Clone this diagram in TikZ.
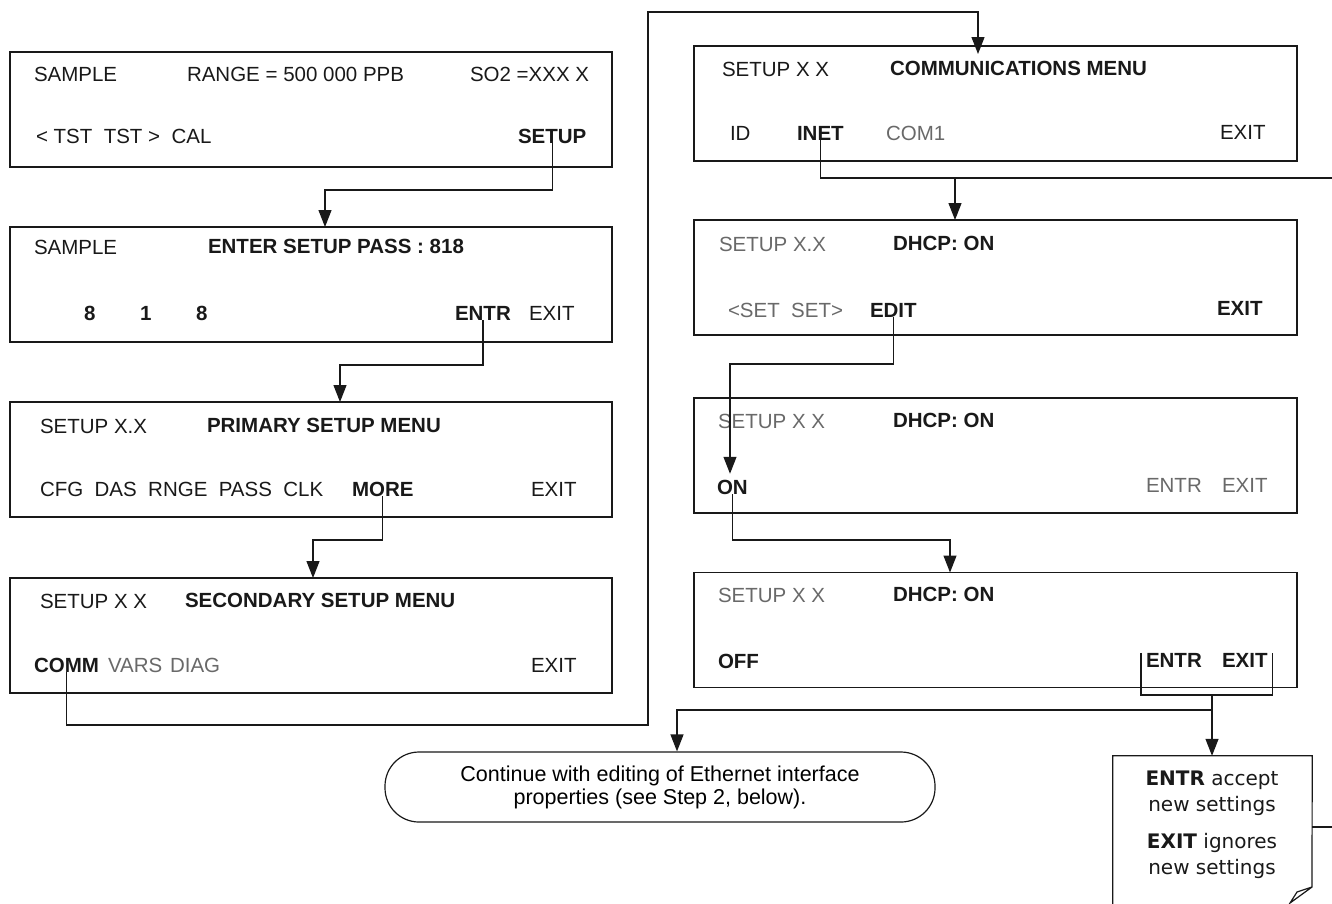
\documentclass[tikz,border=0pt]{standalone}
\usepackage{fontspec}
\setmainfont{Liberation Sans}
\newfontfamily\notefont{DejaVu Sans}
\usetikzlibrary{arrows.meta, positioning, calc}
\definecolor{ink}{RGB}{25,25,25}
\definecolor{dim}{RGB}{105,105,105}
\newcommand\dispfont{\fontsize{20.5pt}{24pt}\selectfont}
\tikzset{
  % Display screen frame
  SCR/.style={rectangle,draw=ink,line width=1.4pt,minimum width=#1,
              minimum height=115pt,inner sep=0pt,outer sep=0pt},
  SCR/.default=602pt,
  % Screen text: plain, bold, faint
  TX/.style={anchor=west,inner sep=0pt,outer sep=0pt,font=\dispfont,text=ink},
  BTX/.style={TX,font=\dispfont\bfseries},
  GTX/.style={TX,text=dim},
  % Rounded note and folded note
  OV/.style={rectangle,rounded corners=34pt,draw=ink,line width=1.2pt,
             minimum width=550pt,minimum height=70pt,align=center,
             font=\fontsize{21.5pt}{23pt}\selectfont},
  NT/.style={inner sep=0pt,align=center,text=ink,
             font=\notefont\fontsize{20pt}{26pt}\selectfont},
  % Connectors
  Ln/.style ={line width=1.2pt,draw=ink},
  Arr/.style={Ln,-{Triangle[length=17pt,width=13pt]}},
}
\begin{document}
\begin{tikzpicture}[x=1pt,y=-1pt]
  \useasboundingbox (0,0) rectangle (1332,903);

  % left column screens
  \node[SCR] (s1) at (311,109.5) {};
  \node[TX]  (smp1)  at (34,74)   {SAMPLE};
  \node[TX]  (rng)   at (187,74)  {RANGE = 500 000 PPB};
  \node[TX]  (so2)   at (470,74)  {SO2 =XXX X};
  \node[TX]  (tst)   at (36,136)  {< TST \ TST > \ CAL};
  \node[BTX] (setup) at (518,136) {SETUP};

  \node[SCR] (s2) at (311,284.5) {};
  \node[TX]  (smp2)  at (34,247)  {SAMPLE};
  \node[BTX] (pass)  at (208,246) {ENTER SETUP PASS : 818};
  \node[BTX] (dg1)   at (84,313)  {8};
  \node[BTX] (dg2)   at (140,313) {1};
  \node[BTX] (dg3)   at (196,313) {8};
  \node[BTX] (entr2) at (455,313) {ENTR};
  \node[TX]  (exit2) at (529,313) {EXIT};

  \node[SCR] (s3) at (311,459.5) {};
  \node[TX]  (set3)  at (40,426)  {SETUP X.X};
  \node[BTX] (prim)  at (207,425) {PRIMARY SETUP MENU};
  \node[TX]  (cfg)   at (40,489)  {CFG \ DAS \ RNGE \ PASS \ CLK};
  \node[BTX] (more)  at (352,489) {MORE};
  \node[TX]  (exit3) at (531,489) {EXIT};

  \node[SCR] (s4) at (311,635.5) {};
  \node[TX]  (set4)  at (40,601)  {SETUP X X};
  \node[BTX] (sec)   at (185,600) {SECONDARY SETUP MENU};
  \node[BTX] (comm)  at (34,665)  {COMM};
  \node[GTX] (vars)  at (108,665) {VARS};
  \node[GTX] (diag)  at (170,665) {DIAG};
  \node[TX]  (exit4) at (531,665) {EXIT};

  % right column screens
  \node[SCR=603pt] (c1) at (995.5,103.5) {};
  \node[TX]  (setc)  at (722,69)   {SETUP X X};
  \node[BTX] (cmenu) at (890,68)   {COMMUNICATIONS MENU};
  \node[TX]  (id)    at (730,133)  {ID};
  \node[BTX] (inet)  at (797,133)  {INET};
  \node[GTX] (com1)  at (886,133)  {COM1};
  \node[TX]  (exitc) at (1220,132) {EXIT};

  \node[SCR=603pt] (d1) at (995.5,277.5) {};
  \node[GTX] (setd1) at (719,244)  {SETUP X.X};
  \node[BTX] (dh1)   at (893,243)  {DHCP: ON};
  \node[GTX] (sets)  at (728,310)  {<SET \ SET>};
  \node[BTX] (edit)  at (870,310)  {EDIT};
  \node[BTX] (exitd1) at (1217,308) {EXIT};

  \node[SCR=603pt] (d2) at (995.5,455.5) {};
  \node[GTX] (setd2) at (718,421)  {SETUP X X};
  \node[BTX] (dh2)   at (893,420)  {DHCP: ON};
  \node[BTX] (on)    at (717,487)  {ON};
  \node[GTX] (entrd2) at (1146,485) {ENTR};
  \node[GTX] (exitd2) at (1222,485) {EXIT};

  \node[SCR=603pt] (d3) at (995.5,630) {};
  \node[GTX] (setd3) at (718,595)  {SETUP X X};
  \node[BTX] (dh3)   at (893,594)  {DHCP: ON};
  \node[BTX] (off)   at (718,661)  {OFF};
  \node[BTX] (entrd3) at (1146,660) {ENTR};
  \node[BTX] (exitd3) at (1222,660) {EXIT};

  % end notes
  \node[OV] (oval) at (660,787)
        {Continue with editing of Ethernet interface\\
         properties (see Step 2, below).};
  \node[inner sep=0pt,minimum width=199pt,minimum height=150pt] (note)
        at (1212.5,831) {};
  \node[NT] (notetxt) at (1212,825)
        {\textbf{ENTR} accept\\new settings\\[11pt]
         \textbf{EXIT} ignores\\new settings};
  \coordinate (fa) at (1312,887);
  \coordinate (fb) at (1290,903);
  \coordinate (fc) at (1297,892);
  \draw[Ln] (note.south west) -- (note.north west) -- (note.north east)
            -- (fa) -- (fb) -- (fc) -- (fa);

  % bends
  \coordinate (j1) at (325,190);
  \coordinate (j2) at (340,365);
  \coordinate (j3) at (313,540);
  \coordinate (j4) at (648,725);
  \coordinate (j5) at (978,12);
  \coordinate (j6) at (1332,178);
  \coordinate (j7) at (955,178);
  \coordinate (j8) at (730,364);
  \coordinate (j9) at (950,540);
  \coordinate (j10) at (1212,695);
  \coordinate (j11) at (1212,710);
  \coordinate (j12) at (677,710);
  \coordinate (j13) at (1332,827);

  \draw[Arr] (setup.south) |- (j1) -- (j1 |- s2.north);
  \draw[Arr] (entr2.south) |- (j2) -- (j2 |- s3.north);
  \draw[Arr] (more.south) |- (j3) -- (j3 |- s4.north);
  \draw[Arr] (comm.south) |- (j4) |- (j5) -- ([yshift=-8pt]j5 |- c1.north);
  \draw[Arr] (inet.north) |- (j7) -- (j7 |- d1.north);
  \draw[Ln]  (j7) -- (j6);
  \draw[Arr,shorten >=6pt] (edit.south) |- (j8) -- (j8 |- on.north);
  \draw[Arr] (on.south) |- (j9) -- (j9 |- d3.north);
  \draw[Ln]  ([xshift=-5pt]entrd3.north west) |- (j10)
             -| ([xshift=5pt]exitd3.north east);
  \draw[Arr] (j10) -- (j10 |- note.north);
  \draw[Arr] (j11) -- (j12) -- (j12 |- oval.north);
  \draw[Ln]  (note.east |- j13) -- (j13);
\end{tikzpicture}
\end{document}
